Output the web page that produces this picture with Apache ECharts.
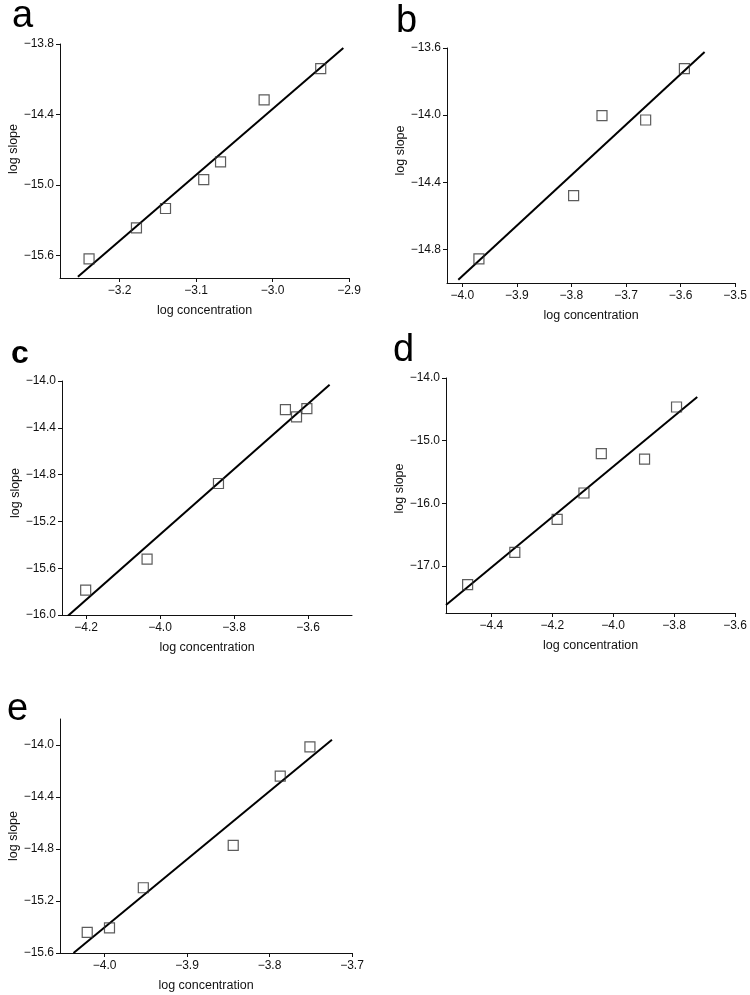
<!DOCTYPE html>
<html>
<head>
<meta charset="utf-8">
<script src="https://cdn.jsdelivr.net/npm/echarts@6/dist/echarts.min.js"></script>
<style>
html,body{margin:0;padding:0;background:#fff;}
#chart{width:750px;height:995px;}
</style>
</head>
<body>
<div id="chart"></div>
<script>
// Panel a
const aX = [-3.240, -3.178, -3.140, -3.090, -3.068, -3.011, -2.937];
const aY = [-15.627, -15.364, -15.199, -14.953, -14.803, -14.276, -14.010];
const aFitX = [-3.2546, -2.9074];
const aFitY = [-15.780, -13.834];
const aXTicks = [-3.2, -3.1, -3.0, -2.9];
const aYTicks = [-15.6, -15.0, -14.4, -13.8];
// Panel b
const bX = [-3.9695, -3.796, -3.744, -3.664, -3.593];
const bY = [-14.856, -14.480, -14.003, -14.029, -13.723];
const bFitX = [-4.0073, -3.556];
const bFitY = [-14.981, -13.624];
const bXTicks = [-4.0, -3.9, -3.8, -3.7, -3.6, -3.5];
const bYTicks = [-14.8, -14.4, -14.0, -13.6];
// Panel c
const cX = [-4.201, -4.035, -3.842, -3.661, -3.631, -3.603];
const cY = [-15.787, -15.522, -14.876, -14.245, -14.307, -14.236];
const cFitX = [-4.2495, -3.5416];
const cFitY = [-16.009, -14.031];
const cXTicks = [-4.2, -4.0, -3.8, -3.6];
const cYTicks = [-16.0, -15.6, -15.2, -14.8, -14.4, -14.0];
// Panel d
const dX = [-4.478, -4.323, -4.184, -4.096, -4.039, -3.897, -3.792];
const dY = [-17.298, -16.782, -16.255, -15.835, -15.207, -15.293, -14.463];
const dFitX = [-4.549, -3.724];
const dFitY = [-17.622, -14.303];
const dXTicks = [-4.4, -4.2, -4.0, -3.8, -3.6];
const dYTicks = [-17.0, -16.0, -15.0, -14.0];
// Panel e
const eX = [-4.021, -3.994, -3.953, -3.844, -3.787, -3.751];
const eY = [-15.442, -15.406, -15.098, -14.772, -14.239, -14.015];
const eFitX = [-4.0376, -3.7243];
const eFitY = [-15.6, -13.959];
const eXTicks = [-4.0, -3.9, -3.8, -3.7];
const eYTicks = [-15.6, -15.2, -14.8, -14.4, -14.0];

const panelLetters = ['a', 'b', 'c', 'd', 'e'];
const xName = 'log concentration';
const yName = 'log slope';

const FONT = '"Liberation Sans", Arial, sans-serif';
const fmt = v => Number(v).toFixed(1).replace('-', '\u2212');

const panels = [
  {x: aX, y: aY, fx: aFitX, fy: aFitY, xt: aXTicks, yt: aYTicks, xr: [-3.278, -2.9], yr: [-15.79, -13.8],
   grid: {left: 60, top: 44, width: 289, height: 234}, letter: {left: 12, top: -2}, yPad: 24},
  {x: bX, y: bY, fx: bFitX, fy: bFitY, xt: bXTicks, yt: bYTicks, xr: [-4.028, -3.5], yr: [-15.0, -13.6],
   grid: {left: 447, top: 48, width: 289, height: 235}, letter: {left: 396, top: 3}, yPad: 30},
  {x: cX, y: cY, fx: cFitX, fy: cFitY, xt: cXTicks, yt: cYTicks, xr: [-4.265, -3.481], yr: [-16.0, -14.0],
   grid: {left: 62, top: 381, width: 290, height: 234}, letter: {left: 11, top: 338}, yPad: 10, bold: true},
  {x: dX, y: dY, fx: dFitX, fy: dFitY, xt: dXTicks, yt: dYTicks, xr: [-4.549, -3.6], yr: [-17.75, -14.0],
   grid: {left: 446, top: 378, width: 289, height: 235}, letter: {left: 393, top: 332}, yPad: 14},
  {x: eX, y: eY, fx: eFitX, fy: eFitY, xt: eXTicks, yt: eYTicks, xr: [-4.054, -3.7], yr: [-15.6, -13.8],
   grid: {left: 60, top: 719, width: 292, height: 234}, letter: {left: 7, top: 691}, yPad: 0}
];

const grids = [], xAxes = [], yAxes = [], series = [], titles = [];
panels.forEach((p, i) => {
  grids.push(Object.assign({containLabel: false}, p.grid));
  const common = {
    type: 'value',
    gridIndex: i,
    splitLine: {show: false},
    axisLine: {show: true, lineStyle: {color: '#111', width: 1}},
    axisTick: {show: true, length: 4, lineStyle: {color: '#111', width: 1}},
    nameTextStyle: {fontFamily: FONT, fontSize: 12.5, color: '#111'}
  };
  xAxes.push(Object.assign({}, common, {
    min: p.xr[0], max: p.xr[1],
    axisTick: Object.assign({}, common.axisTick, {customValues: p.xt}),
    axisLabel: {customValues: p.xt, formatter: fmt, fontFamily: FONT, fontSize: 12, color: '#111', margin: 7},
    name: xName, nameLocation: 'middle', nameGap: 26
  }));
  yAxes.push(Object.assign({}, common, {
    min: p.yr[0], max: p.yr[1],
    axisTick: Object.assign({}, common.axisTick, {customValues: p.yt}),
    axisLabel: {customValues: p.yt, formatter: fmt, fontFamily: FONT, fontSize: 12, color: '#111', margin: 6},
    name: yName, nameLocation: 'middle', nameGap: 40,
    nameTextStyle: {fontFamily: FONT, fontSize: 12.5, color: '#111', padding: [0, 0, 0, p.yPad]}
  }));
  series.push({
    type: 'line', xAxisIndex: i, yAxisIndex: i,
    data: p.fx.map((v, k) => [v, p.fy[k]]),
    symbol: 'none', lineStyle: {color: '#000', width: 2}, silent: true, z: 2
  });
  series.push({
    type: 'scatter', xAxisIndex: i, yAxisIndex: i,
    data: p.x.map((v, k) => [v, p.y[k]]),
    symbol: 'rect', symbolSize: 10,
    itemStyle: {color: 'rgba(255,255,255,0)', borderColor: '#333', borderWidth: 1.2},
    z: 3
  });
  titles.push({
    text: panelLetters[i], left: p.letter.left, top: p.letter.top, padding: 0,
    textStyle: {fontFamily: FONT, fontSize: p.bold ? 32 : 38, fontWeight: p.bold ? 'bold' : 'normal', color: '#000'}
  });
});

const chart = echarts.init(document.getElementById('chart'), null, {renderer: 'canvas'});
chart.setOption({
  backgroundColor: '#fff',
  animation: false,
  title: titles,
  grid: grids,
  xAxis: xAxes,
  yAxis: yAxes,
  series: series
});
</script>
</body>
</html>
